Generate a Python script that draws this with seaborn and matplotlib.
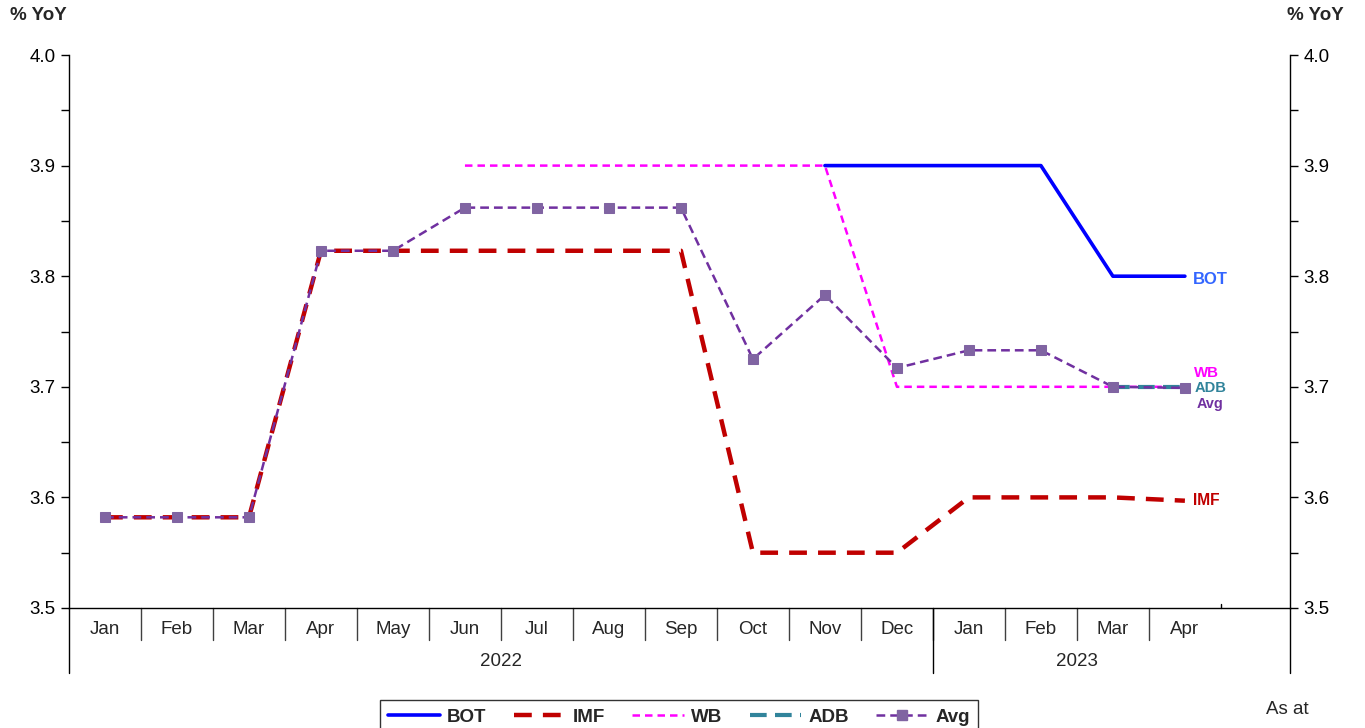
import numpy as np
import pandas as pd
import matplotlib
matplotlib.use("Agg")
import matplotlib.pyplot as plt
import seaborn as sns
from matplotlib.lines import Line2D

months = ["Jan", "Feb", "Mar", "Apr", "May", "Jun", "Jul", "Aug", "Sep", "Oct", "Nov", "Dec",
          "Jan", "Feb", "Mar", "Apr"]
years = ["2022", "2023"]
year_counts = [12, 4]
nan = np.nan
bot = [nan, nan, nan, nan, nan, nan, nan, nan, nan, nan, 3.9, 3.9, 3.9, 3.9, 3.8, 3.8]
imf = [3.582, 3.582, 3.582, 3.823, 3.823, 3.823, 3.823, 3.823, 3.823, 3.55, 3.55, 3.55,
       3.6, 3.6, 3.6, 3.597]
wb = [nan, nan, nan, nan, nan, 3.9, 3.9, 3.9, 3.9, 3.9, 3.9, 3.7, 3.7, 3.7, 3.7, 3.7]
adb = [nan, nan, nan, nan, nan, nan, nan, nan, nan, nan, nan, nan, nan, nan, 3.7, 3.7]
avg = [3.582, 3.582, 3.582, 3.823, 3.823, 3.862, 3.862, 3.862, 3.862, 3.725, 3.783, 3.717,
       3.733, 3.733, 3.7, 3.699]
yticks = [3.5, 3.6, 3.7, 3.8, 3.9, 4.0]

sns.set_style("white")
plt.rcParams['font.family'] = ['Liberation Sans', 'DejaVu Sans']

fig = plt.figure(figsize=(13.65, 7.28), dpi=100)
ax = fig.add_axes([69/1365, 1-608/728, (1290-69)/1365, (608-55)/728])

x = np.arange(len(months))
df = pd.DataFrame({"x": x, "BOT": bot, "IMF": imf, "WB": wb, "ADB": adb, "Avg": avg})

c_bot = "#0000FF"; c_imf = "#C00000"; c_wb = "#FF00FF"; c_adb = "#31849B"; c_avg = "#7030A0"; c_mk = "#8064A2"
ls_imf = (0, (4, 2.5)); ls_wb = (0, (3, 2)); ls_adb = (0, (4, 2)); ls_avg = (0, (3.5, 2))

sns.lineplot(data=df, x="x", y="BOT", ax=ax, color=c_bot, lw=2.6, zorder=3)
sns.lineplot(data=df, x="x", y="IMF", ax=ax, color=c_imf, lw=3.2, zorder=3, linestyle=ls_imf)
sns.lineplot(data=df, x="x", y="WB", ax=ax, color=c_wb, lw=1.8, zorder=4, linestyle=ls_wb)
sns.lineplot(data=df, x="x", y="ADB", ax=ax, color=c_adb, lw=3.0, zorder=4, linestyle=ls_adb)
sns.lineplot(data=df, x="x", y="Avg", ax=ax, color=c_avg, lw=1.8, zorder=5, linestyle=ls_avg,
             marker="s", markersize=7.5, markerfacecolor=c_mk, markeredgecolor=c_mk)

n = len(months)
ax.set_xlim(-0.5, n - 0.5 + 0.96)
ax.set_ylim(3.5, 4.0)
ax.set_yticks(yticks)
ax.set_yticklabels([f"{v:.1f}" for v in yticks])
ax.set_yticks(np.arange(3.55, 4.0, 0.1), minor=True)
ax.tick_params(axis="y", which="both", left=True, right=True, labelleft=True, labelright=True,
               direction="out", length=6, width=1, labelsize=13.5, colors="black")
ax.tick_params(axis="y", which="minor", length=6)
ax.set_xticks([])
ax.set_xlabel(""); ax.set_ylabel("")
for s in ["left", "right", "bottom"]:
    ax.spines[s].set_visible(True)
    ax.spines[s].set_color("black")
    ax.spines[s].set_linewidth(1.0)
ax.spines["top"].set_visible(False)

trans = ax.get_xaxis_transform()
h_px = 608 - 55
def yax(py):
    return (608 - py) / h_px

# category separators
for b in np.arange(0.5, n - 0.5, 1.0):
    ax.plot([b, b], [0, yax(640)], transform=trans, color="#404040", lw=1.0, clip_on=False)
ax.plot([n - 0.5, n - 0.5], [0, yax(604)], transform=trans, color="black", lw=1.0, clip_on=False)
# year separators
bounds = [-0.5]
for c in year_counts:
    bounds.append(bounds[-1] + c)
for b in bounds[1:-1]:
    ax.plot([b, b], [0, yax(673)], transform=trans, color="black", lw=1.0, clip_on=False)
ax.plot([-0.5, -0.5], [0, yax(673)], transform=trans, color="black", lw=1.0, clip_on=False)
ax.plot([n - 0.5 + 0.96] * 2, [0, yax(673)], transform=trans, color="black", lw=1.0, clip_on=False)

for i, m in enumerate(months):
    ax.text(i, yax(630), m, transform=trans, ha="center", va="center", fontsize=13.5)
starts = bounds[:-1]
for yr, st, c in zip(years, starts, year_counts):
    ax.text(st + c / 2, yax(662), yr, transform=trans, ha="center", va="center", fontsize=13.5)

# end labels
ax.text(n - 1 + 0.11, 3.797, "BOT", color="#3366FF", fontsize=12, fontweight="bold", va="center")
ax.text(n - 1 + 0.12, 3.7125, "WB", color=c_wb, fontsize=10.8, fontweight="bold", va="center")
ax.text(n - 1 + 0.13, 3.699, "ADB", color="#31849B", fontsize=10.6, fontweight="bold", va="center")
ax.text(n - 1 + 0.16, 3.6845, "Avg", color=c_avg, fontsize=10.4, fontweight="bold", va="center")
ax.text(n - 1 + 0.11, 3.597, "IMF", color=c_imf, fontsize=11.2, fontweight="bold", va="center")

fig.text(10/1365, 1-16/728, "% YoY", fontsize=13.5, fontweight="bold", ha="left", va="center")
fig.text(1287/1365, 1-16/728, "% YoY", fontsize=13.5, fontweight="bold", ha="left", va="center")
fig.text(1266/1365, 1-710/728, "As at", fontsize=13.5, ha="left", va="center")

handles = [
    Line2D([], [], color=c_bot, lw=2.6),
    Line2D([], [], color=c_imf, lw=3.2, linestyle=ls_imf),
    Line2D([], [], color=c_wb, lw=1.8, linestyle=ls_wb),
    Line2D([], [], color=c_adb, lw=3.0, linestyle=ls_adb),
    Line2D([], [], color=c_avg, lw=1.8, linestyle=ls_avg, marker="s", markersize=7.5,
           markerfacecolor=c_mk, markeredgecolor=c_mk),
]
leg = fig.legend(handles, ["BOT", "IMF", "WB", "ADB", "Avg"], loc="upper center",
                 bbox_to_anchor=(679/1365, 1-700/728), ncol=5, frameon=True, fancybox=False,
                 edgecolor="black", handlelength=2.75, columnspacing=1.45,
                 handletextpad=0.4, borderpad=0.45, borderaxespad=0.0,
                 prop={"weight": "bold", "size": 13.5, "family": ["Liberation Sans", "DejaVu Sans"]})
leg.get_frame().set_linewidth(1.0)

fig.savefig("out.png", dpi=100)
